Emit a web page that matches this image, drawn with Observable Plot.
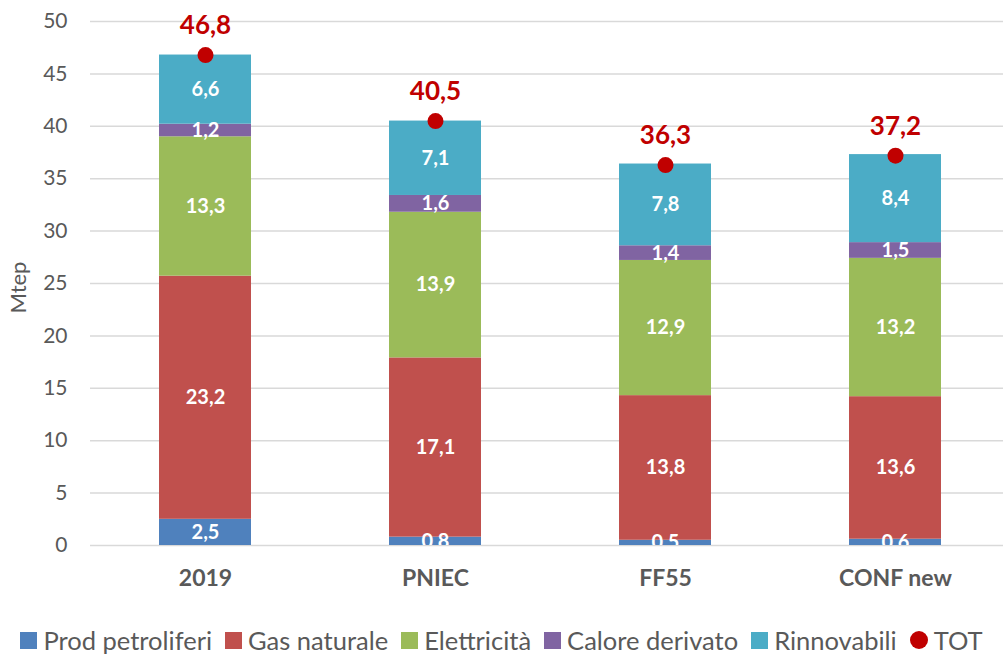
<!DOCTYPE html>
<html>
<head>
<meta charset="utf-8">
<script src="https://cdn.jsdelivr.net/npm/d3@7"></script>
<script src="https://cdn.jsdelivr.net/npm/@observablehq/plot@0.6"></script>
<style>
  body { margin: 0; background: #fff; font-family: Lato, "Open Sans", sans-serif; overflow: hidden; }
  #legend { display: flex; justify-content: center; align-items: center; gap: 13px; font-size: 25.5px; line-height: 30px; color: #595959; margin-top: 15px; white-space: nowrap; }
  .item { display: flex; align-items: center; gap: 6px; }
  .sw { width: 17px; height: 17px; display: inline-block; }
  .dot { width: 18px; height: 18px; border-radius: 50%; display: inline-block; }
</style>
</head>
<body>
<div id="chart"></div>
<div id="legend"></div>
<script>
const categories = ["2019", "PNIEC", "FF55", "CONF new"];
const seriesNames = ["Prod petroliferi", "Gas naturale", "Elettricità", "Calore derivato", "Rinnovabili"];
const seriesColors = ["#4F81BD", "#C0504D", "#9BBB59", "#8064A2", "#4BACC6"];
const prodPetroliferi = [2.5, 0.8, 0.5, 0.6];
const gasNaturale = [23.2, 17.1, 13.8, 13.6];
const elettricita = [13.3, 13.9, 12.9, 13.2];
const caloreDerivato = [1.2, 1.6, 1.4, 1.5];
const rinnovabili = [6.6, 7.1, 7.8, 8.4];
const tot = [46.8, 40.5, 36.3, 37.2];
const yTicks = [0, 5, 10, 15, 20, 25, 30, 35, 40, 45, 50];
const yLabel = "Mtep";
const totColor = "#C00000";

const seriesValues = [prodPetroliferi, gasNaturale, elettricita, caloreDerivato, rinnovabili];
const fmt = v => v.toFixed(1).replace(".", ",");

const long = [];
seriesNames.forEach((s, si) => {
  categories.forEach((c, ci) => long.push({cat: c, series: s, value: seriesValues[si][ci]}));
});
const totData = categories.map((c, i) => ({cat: c, tot: tot[i]}));

const chart = Plot.plot({
  width: 1003,
  height: 610,
  marginLeft: 90,
  marginRight: 0,
  marginTop: 21,
  marginBottom: 65,
  style: { fontFamily: "Lato, 'Open Sans', sans-serif", background: "#fff" },
  x: { domain: categories, range: [90, 1010], paddingInner: 0.6, paddingOuter: 0.3, label: null },
  y: { domain: [0, 50], label: null },
  color: { domain: seriesNames, range: seriesColors },
  marks: [
    Plot.ruleY(yTicks, { stroke: "#d9d9d9", strokeWidth: 1.5 }),
    Plot.axisY({ ticks: yTicks, tickSize: 0, tickPadding: 23, fontSize: 21, fill: "#595959", tickFormat: d => String(d), label: null }),
    Plot.text([yLabel], { frameAnchor: "left", text: d => d, rotate: -90, textAnchor: "middle", dx: -72, dy: 4, fontSize: 22, fill: "#595959" }),
    Plot.axisX({ tickSize: 0, tickPadding: 24, fontSize: 23, fontWeight: "bold", fill: "#595959", label: null }),
    Plot.barY(long, Plot.stackY({ x: "cat", y: "value", fill: "series", order: seriesNames })),
    Plot.text(long, Plot.stackY({ x: "cat", y: "value", z: "series", order: seriesNames, text: d => fmt(d.value),
      fill: "white", fontSize: 20, fontWeight: "bold", clip: true })),
    Plot.dot(totData, { x: "cat", y: "tot", r: 8, fill: totColor }),
    Plot.text(totData, { x: "cat", y: "tot", text: d => fmt(d.tot), dy: -29, fill: totColor, fontSize: 26, fontWeight: "bold" })
  ]
});
document.getElementById("chart").appendChild(chart);

const legend = document.getElementById("legend");
seriesNames.forEach((s, i) => {
  const it = document.createElement("span"); it.className = "item";
  const sw = document.createElement("span"); sw.className = "sw"; sw.style.background = seriesColors[i];
  it.appendChild(sw); it.appendChild(document.createTextNode(s)); legend.appendChild(it);
});
const it = document.createElement("span"); it.className = "item";
const dt = document.createElement("span"); dt.className = "dot"; dt.style.background = totColor;
it.appendChild(dt); it.appendChild(document.createTextNode("TOT")); legend.appendChild(it);
</script>
</body>
</html>
